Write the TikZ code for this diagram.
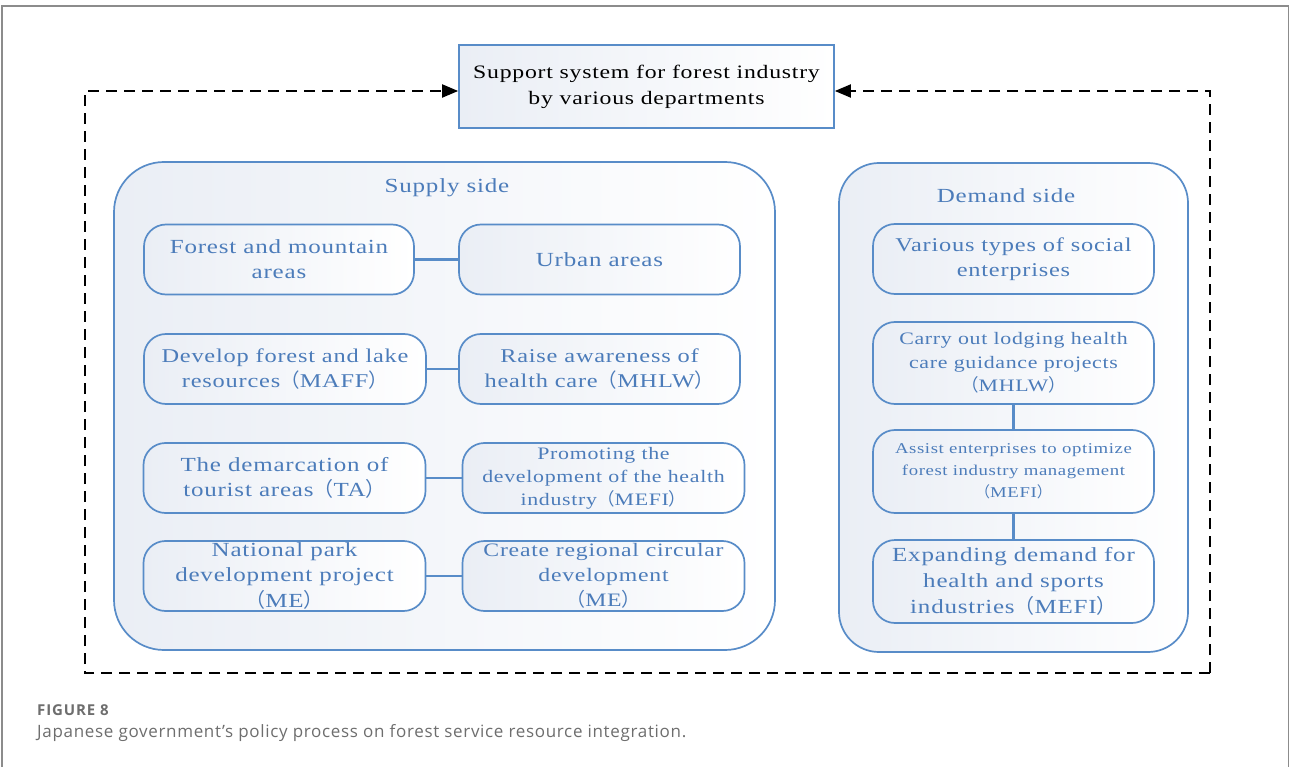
\documentclass[tikz,border=0pt]{standalone}
\usepackage{fontspec}
\setmainfont{Liberation Serif}
\newfontfamily\ls[FakeStretch=1.25,LetterSpace=4]{Liberation Serif}
\newfontfamily\cjk{Noto Sans CJK SC}
\newfontfamily\capfont[LetterSpace=4]{Open Sans}
\newfontfamily\capfontb[LetterSpace=6]{Open Sans}
\usetikzlibrary{arrows.meta}
\definecolor{bd}{RGB}{88,140,200}
\definecolor{tx}{RGB}{76,124,186}
\definecolor{sh}{RGB}{234,238,245}
\definecolor{fr}{RGB}{140,140,140}
\definecolor{capc}{RGB}{110,110,110}
\newcommand{\lp}{{\cjk （}}
\newcommand{\rp}{{\cjk ）}}
\newcommand{\fsz}[2]{\fontsize{#1}{#2}\selectfont}
\begin{document}
\begin{tikzpicture}[x=1pt,y=-1pt,
  boxbase/.style={draw=bd, line width=1.7pt, left color=sh, right color=white, inner xsep=2pt, inner ysep=0pt, align=center, text=tx},
  item/.style={boxbase, rounded corners=22pt, minimum height=70pt, font=\ls\fsz{20}{25}},
  panel/.style={boxbase, rounded corners=50pt},
  conn/.style={draw=bd, line width=2.2pt},
  loopline/.style={draw=black, line width=2pt, dash pattern=on 11pt off 7pt},
  tip/.style={-{Triangle[length=16pt,width=13pt]}},
  ttl/.style={text=tx, inner sep=0pt, font=\ls\fsz{20}{24}},
]
\useasboundingbox (0,0) rectangle (1290,767);
\fill[white] (0,0) rectangle (1290,767);
% frame
\draw[fr, line width=1.5pt] (2,768) -- (2,6) -- (1288.5,6) -- (1288.5,768);

% top box
\node[boxbase, text=black, minimum width=375pt, minimum height=83pt, font=\ls\fsz{19}{26}] (top) at (646.5,86.5) {Support system for forest industry\\by various departments};

% panels
\node[panel, minimum width=661pt, minimum height=488pt] (supply) at (444.5,406) {};
\node[ttl] (supplyt) at (447,188) {Supply side};
\node[panel, rounded corners=40pt, minimum width=349pt, minimum height=489pt] (demand) at (1013.5,407.5) {};
\node[ttl] (demandt) at (1006,196) {Demand side};

% supply items
\node[item, minimum width=270pt] (s1l) at (279,259.5) {Forest and mountain\\areas};
\node[item, minimum width=281pt] (s1r) at (599.5,259.5) {Urban areas};
\node[item, minimum width=282pt, font=\ls\fsz{19.5}{25}] (s2l) at (285,369) {Develop forest and lake\\resources\lp MAFF\rp};
\node[item, minimum width=281pt, font=\ls\fsz{19.5}{25}] (s2r) at (599.5,369) {Raise awareness of\\health care\lp MHLW\rp};
\node[item, minimum width=282pt] (s3l) at (284.5,478) {The demarcation of\\tourist areas\lp TA\rp};
\node[item, minimum width=282pt, font=\ls\fsz{17.5}{23}] (s3r) at (603.5,478) {Promoting the\\development of the health\\industry\lp MEFI\rp};
\node[item, minimum width=282pt, font=\ls\fsz{20}{25.5}] (s4l) at (284.5,576) {National park\\development project\\\lp ME\rp};
\node[item, minimum width=282pt, font=\ls\fsz{19}{25}] (s4r) at (603.5,576) {Create regional circular\\development\\\lp ME\rp};
\draw[conn] (s1l) -- (s1r);
\draw[conn] (s2l) -- (s2r);
\draw[conn] (s3l) -- (s3r);
\draw[conn] (s4l) -- (s4r);

% demand items
\node[item, minimum width=281pt, font=\ls\fsz{19.5}{25}] (d1) at (1013.5,259) {Various types of social\\enterprises};
\node[item, minimum width=281pt, minimum height=82pt, font=\ls\fsz{17.5}{23.5}] (d2) at (1013.5,363) {Carry out lodging health\\care guidance projects\\\lp MHLW\rp};
\node[item, minimum width=281pt, minimum height=83pt, font=\ls\fsz{15}{22}] (d3) at (1013.5,471.5) {Assist enterprises to optimize\\forest industry management\\\lp MEFI\rp};
\node[item, minimum width=281pt, minimum height=83pt, font=\ls\fsz{20}{26}] (d4) at (1013.5,581.5) {Expanding demand for\\health and sports\\industries\lp MEFI\rp};
\draw[conn] (d2) -- (d3);
\draw[conn] (d3) -- (d4);

% dashed feedback loop
\coordinate (bl) at (85,673);
\coordinate (br) at (1210,673);
\draw[loopline, tip] (br) -- (bl) |- ([yshift=-4.5pt]top.west);
\draw[loopline, tip] (br) |- ([yshift=-4.5pt]top.east);

% caption
\node[anchor=base west, inner sep=0pt, text=capc, font=\capfontb\bfseries\fsz{15}{17}] (figlabel) at (37,715) {FIGURE 8};
\node[anchor=base west, inner sep=0pt, text=capc, font=\capfont\fsz{17}{20}] (caption) at (37,737) {Japanese government’s policy process on forest service resource integration.};
\end{tikzpicture}
\end{document}
